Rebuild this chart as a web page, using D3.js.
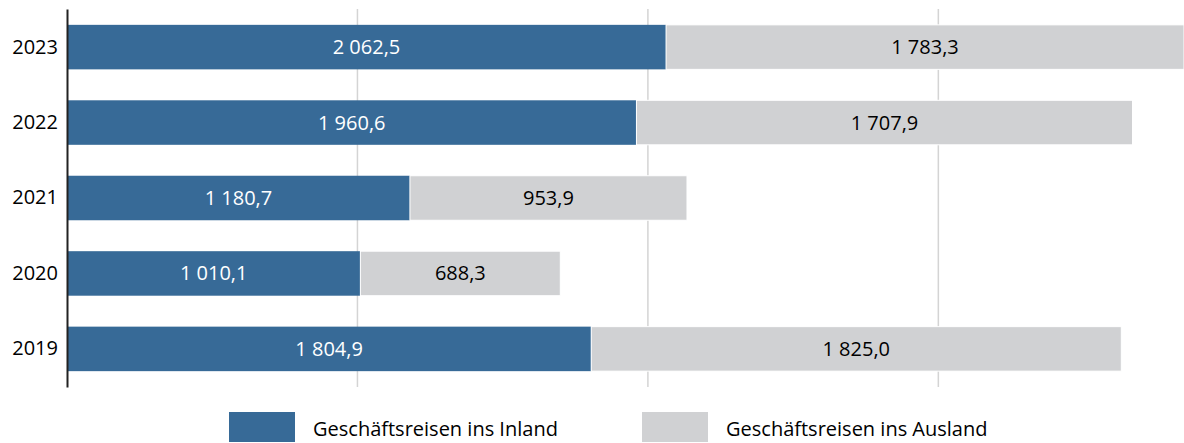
<!DOCTYPE html>
<html>
<head>
<meta charset="utf-8">
<script src="https://cdn.jsdelivr.net/npm/d3@7"></script>
<style>
  body { margin: 0; background: #fff; }
  text { font-family: 'Open Sans', sans-serif; }
</style>
</head>
<body>
<div id="chart"></div>
<script>
// data
var years = ['2023', '2022', '2021', '2020', '2019']
var inland = [2062.5, 1960.6, 1180.7, 1010.1, 1804.9]
var ausland = [1783.3, 1707.9, 953.9, 688.3, 1825.0]
var seriesNames = ['Geschäftsreisen ins Inland', 'Geschäftsreisen ins Ausland']
var gridTicks = [1000, 2000, 3000]

var width = 1184
var height = 443
var colors = ['#376a97', '#d0d1d3']
var fontSize = 20

var svg = d3.select('#chart')
  .append('svg')
  .attr('width', width)
  .attr('height', height)

var xPositionScale = d3.scaleLinear()
  .domain([0, 3845.8])
  .range([67, 1184])

var yPositionScale = d3.scaleBand()
  .domain(years)
  .range([9, 387])
  .paddingInner(0.41)
  .paddingOuter(0.21)

var fmt = function(v) {
  var s = v.toFixed(1).replace('.', ',')
  var parts = s.split(',')
  parts[0] = parts[0].replace(/\B(?=(\d{3})+(?!\d))/g, ' ')
  return parts.join(',')
}

// gridlines
svg.selectAll('.grid')
  .data(gridTicks)
  .enter()
  .append('line')
  .attr('x1', d => xPositionScale(d))
  .attr('x2', d => xPositionScale(d))
  .attr('y1', 9)
  .attr('y2', 387)
  .attr('stroke', '#d4d4d4')
  .attr('stroke-width', 1.5)

var rows = years.map(function(y, i) {
  return { year: y, inland: inland[i], ausland: ausland[i] }
})

var g = svg.selectAll('.row')
  .data(rows)
  .enter()
  .append('g')
  .attr('class', 'row')

g.append('rect')
  .attr('x', xPositionScale(0))
  .attr('y', d => yPositionScale(d.year))
  .attr('width', d => xPositionScale(d.inland) - xPositionScale(0))
  .attr('height', yPositionScale.bandwidth())
  .attr('fill', colors[0])

g.append('rect')
  .attr('x', d => xPositionScale(d.inland))
  .attr('y', d => yPositionScale(d.year))
  .attr('width', d => xPositionScale(d.inland + d.ausland) - xPositionScale(d.inland))
  .attr('height', yPositionScale.bandwidth())
  .attr('fill', colors[1])
  .attr('stroke', '#fff')
  .attr('stroke-width', 1)

g.append('text')
  .text(d => fmt(d.inland))
  .attr('x', d => (xPositionScale(0) + xPositionScale(d.inland)) / 2)
  .attr('y', d => yPositionScale(d.year) + yPositionScale.bandwidth() / 2)
  .attr('dy', '0.35em')
  .attr('text-anchor', 'middle')
  .attr('font-size', fontSize)
  .attr('fill', '#fff')

g.append('text')
  .text(d => fmt(d.ausland))
  .attr('x', d => (xPositionScale(d.inland) + xPositionScale(d.inland + d.ausland)) / 2)
  .attr('y', d => yPositionScale(d.year) + yPositionScale.bandwidth() / 2)
  .attr('dy', '0.35em')
  .attr('text-anchor', 'middle')
  .attr('font-size', fontSize)
  .attr('fill', '#000')

// y axis
var yAxis = d3.axisLeft(yPositionScale).tickSize(0).tickPadding(9)
var yg = svg.append('g')
  .attr('transform', 'translate(' + xPositionScale(0) + ',0)')
  .call(yAxis)
yg.select('.domain').attr('stroke', '#222').attr('stroke-width', 2)
yg.selectAll('text')
  .attr('font-size', fontSize)
  .attr('fill', '#000')
  .style('font-family', "'Open Sans', sans-serif")

// legend
var legendX = [229, 642]
var legend = svg.selectAll('.legend')
  .data(seriesNames)
  .enter()
  .append('g')
  .attr('transform', (d, i) => 'translate(' + legendX[i] + ',412)')

legend.append('rect')
  .attr('width', 66)
  .attr('height', 30)
  .attr('fill', (d, i) => colors[i])

legend.append('text')
  .text(d => d)
  .attr('x', 84)
  .attr('y', 17)
  .attr('dy', '0.35em')
  .attr('font-size', fontSize)
  .attr('fill', '#000')
</script>
</body>
</html>
